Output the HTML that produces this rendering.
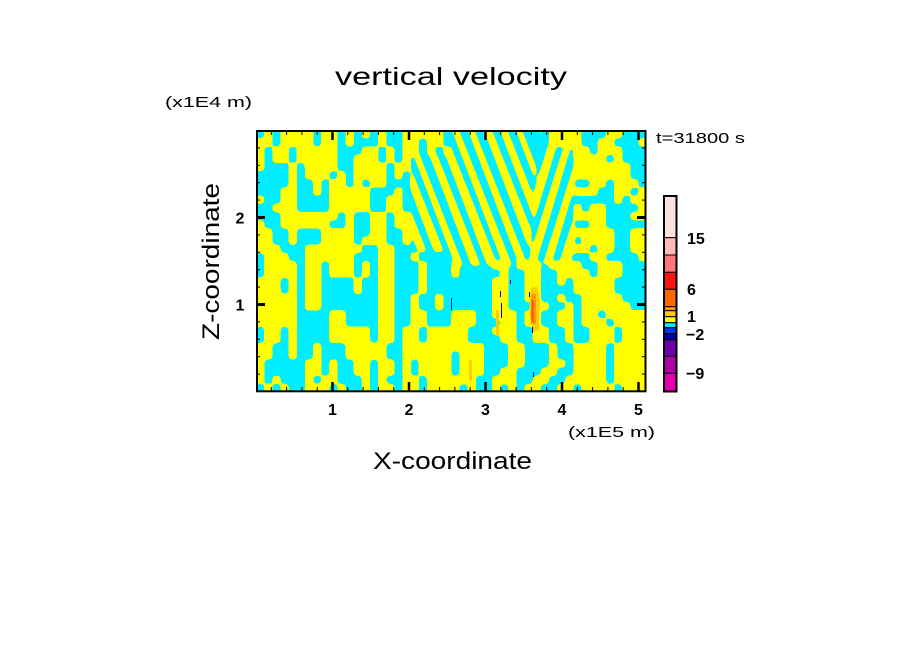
<!DOCTYPE html>
<html><head><meta charset="utf-8"><style>
html,body{margin:0;padding:0;background:#fff;}
svg{display:block;}
text{font-family:"Liberation Sans",sans-serif;fill:#000;}
</style></head><body>
<svg id="s" xmlns="http://www.w3.org/2000/svg" width="904" height="654" viewBox="0 0 904 654">
<defs>
<clipPath id="pc"><rect x="256" y="130" width="390.5" height="262"/></clipPath>
<filter id="sm" filterUnits="userSpaceOnUse" x="220" y="100" width="460" height="320" color-interpolation-filters="sRGB">
<feGaussianBlur stdDeviation="2.0"/>
<feComponentTransfer><feFuncA type="discrete" tableValues="0 1"/></feComponentTransfer>
</filter>
<clipPath id="cl"><polygon points="451,120 540,120 529,266 451,266 451,252 410,252 410,154 451,154"/></clipPath>
<clipPath id="cr"><polygon points="540,120 575,120 575,262 529,266"/></clipPath>
</defs>
<rect width="904" height="654" fill="#fff"/>

<g clip-path="url(#pc)">
<rect x="250" y="125" width="402" height="272" fill="#00eeff"/>
<g filter="url(#sm)" fill="#ffff00">
<g id="cells"></g>
<g clip-path="url(#cl)" id="sl"></g>
<g clip-path="url(#cr)" id="sr"></g>
</g>
<polygon points="531,288 537,286 540,300 539,330 533,332 529,312" fill="#ffcc00"/>
<rect x="531" y="294" width="5" height="30" fill="#ff9900"/>
<rect x="531.5" y="300" width="2" height="22" fill="#ff5500"/>
<rect x="496" y="310" width="3" height="26" fill="#ffcc00"/>
<rect x="469" y="360" width="3" height="20" fill="#ffcc00"/>
<g fill="#0000cc">
<rect x="451" y="298" width="1" height="12"/>
<rect x="500" y="291" width="1" height="6"/>
<rect x="501" y="303" width="1" height="15"/>
<rect x="510" y="280" width="1" height="4"/>
<rect x="529" y="292" width="1" height="5"/>
<rect x="532" y="327" width="1" height="6"/>
<rect x="533" y="372" width="1" height="5"/>
</g>
</g>

<rect x="257" y="131" width="388.5" height="260.3" fill="none" stroke="#000" stroke-width="2"/>
<g id="ticks" stroke="#000"></g>

<text x="335" y="85" font-size="25" textLength="232" lengthAdjust="spacingAndGlyphs">vertical velocity</text>
<text x="165" y="107" font-size="15" textLength="87" lengthAdjust="spacingAndGlyphs">(x1E4 m)</text>
<text transform="translate(219,340) rotate(-90)" font-size="24" textLength="157" lengthAdjust="spacingAndGlyphs">Z-coordinate</text>
<g font-size="16" font-weight="bold" text-anchor="middle">
<text x="240" y="223.5">2</text>
<text x="240" y="310.5">1</text>
<text x="332.5" y="415">1</text>
<text x="409" y="415">2</text>
<text x="485.5" y="415">3</text>
<text x="562" y="415">4</text>
<text x="638.5" y="415">5</text>
</g>
<text x="568" y="437" font-size="15" textLength="87" lengthAdjust="spacingAndGlyphs">(x1E5 m)</text>
<text x="373" y="469" font-size="24" textLength="159" lengthAdjust="spacingAndGlyphs">X-coordinate</text>
<text x="656" y="143" font-size="15" textLength="89" lengthAdjust="spacingAndGlyphs">t=31800 s</text>

<g stroke="#000" stroke-width="1">
<rect x="664" y="196" width="12.5" height="41.7" fill="#ffe0e0"/>
<rect x="664" y="237.7" width="12.5" height="17.3" fill="#ffb8b8"/>
<rect x="664" y="255" width="12.5" height="17.3" fill="#ff7878"/>
<rect x="664" y="272.3" width="12.5" height="17" fill="#ff1414"/>
<rect x="664" y="289.3" width="12.5" height="17.4" fill="#ff6600"/>
<rect x="664" y="306.7" width="12.5" height="4" fill="#ff9900"/>
<rect x="664" y="310.7" width="12.5" height="6" fill="#ffcc00"/>
<rect x="664" y="316.7" width="12.5" height="6" fill="#ffff00"/>
<rect x="664" y="322.7" width="12.5" height="5" fill="#00eeff"/>
<rect x="664" y="327.7" width="12.5" height="6" fill="#0033ff"/>
<rect x="664" y="333.7" width="12.5" height="6" fill="#0000aa"/>
<rect x="664" y="339.7" width="12.5" height="16.6" fill="#7000aa"/>
<rect x="664" y="356.3" width="12.5" height="17" fill="#b000aa"/>
<rect x="664" y="373.3" width="12.5" height="18.4" fill="#e600aa"/>
</g>
<rect x="664" y="196" width="12.5" height="195.5" fill="none" stroke="#000" stroke-width="2"/>
<g font-size="16" font-weight="bold">
<text x="687" y="244">15</text>
<text x="687" y="295">6</text>
<text x="687" y="322">1</text>
<text x="686" y="340">−2</text>
<text x="686" y="379">−9</text>
</g>
</svg>
<script>
(function(){
var NS="http://www.w3.org/2000/svg";
var rows=[
".Y.YYYY.YY.Y.Y.Y..YYYYY."+"............YYYY...YY...",
"YY.YYYY.YY.Y...Y..YY.YY."+"............YYYY..YY...Y",
"Y.YY.YYYYY...YY.Y.YY.Y.Y"+"..................YYY...",
"Y.YY.YYYYY..YYY.Y.Y.YY.Y"+".................YY.Y...",
"Y...Y.YYYY..YYYY.YY.YYY."+"................YYYYYY..",
"....Y.YYY.Y.YYYY.Y..YY.."+"................YYYYYY..",
"....Y..Y.YY.Y.YY...YYY.."+".................YY.YYY.",
"...YY..Y.YYYYY...Y.YY..."+".................Y..YY.Y",
"Y..YY....YYYYY..YY.YY..."+"....................Y.YY",
"..YYY....YYYYY..YY.YY..."+".................YY....Y",
"...YYYYYYY.Y..YY.YY.YY.."+".................YY...YY",
"Y..YYYYYY..Y..YY.YY..YY."+".................YY.....",
"YY..Y...YYYY..YY..YY..YY"+".................YYY..YY",
"YY..Y...YYYY.YYY..YY.YYY"+".................YYY..YY",
"YYY...YYYYYYY..YY..Y...."+"..................YY..YY",
".YYY..YYYYYY...YY..Y...."+".................YY....Y",
".YYYY.YY.YYY.Y.YY...Y..."+"Y....YY.YYY.YYYY..YYY...",
".YYYY.YY.YYY.Y.YY...Y..."+"Y.....Y..YY..YYYY.YYY...",
"YYY.Y.YY....Y..YY...Y..."+".....YY..YY..Y.YYYYY....",
"YYY.Y.YY....Y..YY...Y..."+".....YY..YY....YYYYY....",
"YYYYY.YY.......YY..Y..Y."+".....YY..YY..Y..YYYYY...",
"YYYYY.YY.......YY..Y..Y."+".....YY...YY..Y.YYYYYY..",
"YYYYY....YY....YY..YY..."+"YYY..YYY.YY..YY.YY.YYYYY",
"YYYYY....YY....YY..YY..."+"YYY...YY.YY..YY.YYY.YYYY",
".YY.Y....YYYYY.YY.YY.YYY"+"YY...YYY..YY..Y..YYY.YYY",
".YY.Y....YYYYY.YY.YY.YYY"+"YY....YY..YY..Y..YYY.YYY",
"YY..Y..Y...YYYYY..YYYYYY"+"YYYY...YY...Y..YYYY.YYYY",
"YY..Y..Y...YYYYY..YYYYYY"+".YYY...YY...Y..YYYY.YYYY",
"Y.....YY.Y..YY.YY.Y.YYYY"+".YYY...YY...YY.YYYY.YYYY",
"Y.....YY.Y..YY.YY.Y.YYYY"+".YYY..YY...YY..YYYY.YYYY",
"Y.Y...Y.YY...Y.Y..YY.YYY"+"YYY..YYY..YY..YYYYY.YYYY",
".Y.Y..YYY.Y..Y.YY.YY.YYY"+"Y.Y..Y.Y.YY..YY.YYYY.YYY"
];
var extra={2:"YY",3:"YY",4:"YY",5:"YY",6:"..",7:"YY",8:"..",9:"Y.",10:"YY",11:"..",12:"YY",13:".Y",14:"YY",15:".."};
for(var r=0;r<rows.length;r++){
  var a=rows[r].split('');
  if(r>=3&&r<=14){for(var c=19;c<=23;c++)a[c]='.';}
  if(extra[r]){a[39]=extra[r][0];a[40]=extra[r][1];}
  rows[r]=a.join('');
}
var x0=256,y0=130,W=390.5/48,H=262/32;
var g=document.getElementById('cells');
for(var r=0;r<rows.length;r++){
  var s=rows[r];var c=0;
  while(c<48){
    if(s.charAt(c)==='Y'){
      var c2=c;while(c2<48&&s.charAt(c2)==='Y')c2++;
      var x=x0+c*W,xe=x0+c2*W,y=y0+r*H,ye=y0+(r+1)*H;
      if(c===0)x-=12; if(c2===48)xe+=12;
      if(r===0)y-=12; if(r===31)ye+=12;
      var e=document.createElementNS(NS,'rect');
      e.setAttribute('x',x.toFixed(2));e.setAttribute('y',y.toFixed(2));
      e.setAttribute('width',(xe-x+0.3).toFixed(2));e.setAttribute('height',(ye-y+0.3).toFixed(2));
      g.appendChild(e);
      c=c2;
    } else c++;
  }
}
function poly(parent,pts){var p=document.createElementNS(NS,'polygon');p.setAttribute('points',pts.map(function(a){return a[0].toFixed(1)+','+a[1].toFixed(1);}).join(' '));parent.appendChild(p);}
var sl=document.getElementById('sl'),sr=document.getElementById('sr');
var yt=120,yb=266,dy=yb-yt;
var wl=[8,6.5,9,7,7.5,6,8.5,7,6.5,9,7,8,6,7.5,8.5,7,6.5,8,7.5,6];
for(var k=-12;k<=7;k++){var a=400+16*k,d=0.38*dy,w=wl[(k+12)%wl.length];
  poly(sl,[[a,yt],[a+w,yt],[a+w+d+2,yb],[a+d,yb]]);}
for(var k=-3;k<=6;k++){var a=540+16*k,d=-0.3*dy,w=wl[(k+5)%wl.length];
  poly(sr,[[a,yt],[a+w,yt],[a+w+d,yb],[a+d-2,yb]]);}
var t=document.getElementById('ticks');
function ln(x1,y1,x2,y2,w){var l=document.createElementNS(NS,'line');l.setAttribute('x1',x1);l.setAttribute('y1',y1);l.setAttribute('x2',x2);l.setAttribute('y2',y2);l.setAttribute('stroke-width',w);t.appendChild(l);}
for(var i=1;i<=25;i++){var x=256+15.3*i;var maj=(i%5===0);
  ln(x,391,x,maj?382:387,maj?2.5:1);
  ln(x,131,x,maj?140:135,maj?2.5:1);}
for(var i=1;i<=14;i++){var y=391.5-17.4*i;var maj=(i%5===0);
  ln(256,y,maj?265:260,y,maj?3:1);
  ln(646,y,maj?637:642,y,maj?3:1);}
})();
</script>
</body></html>
